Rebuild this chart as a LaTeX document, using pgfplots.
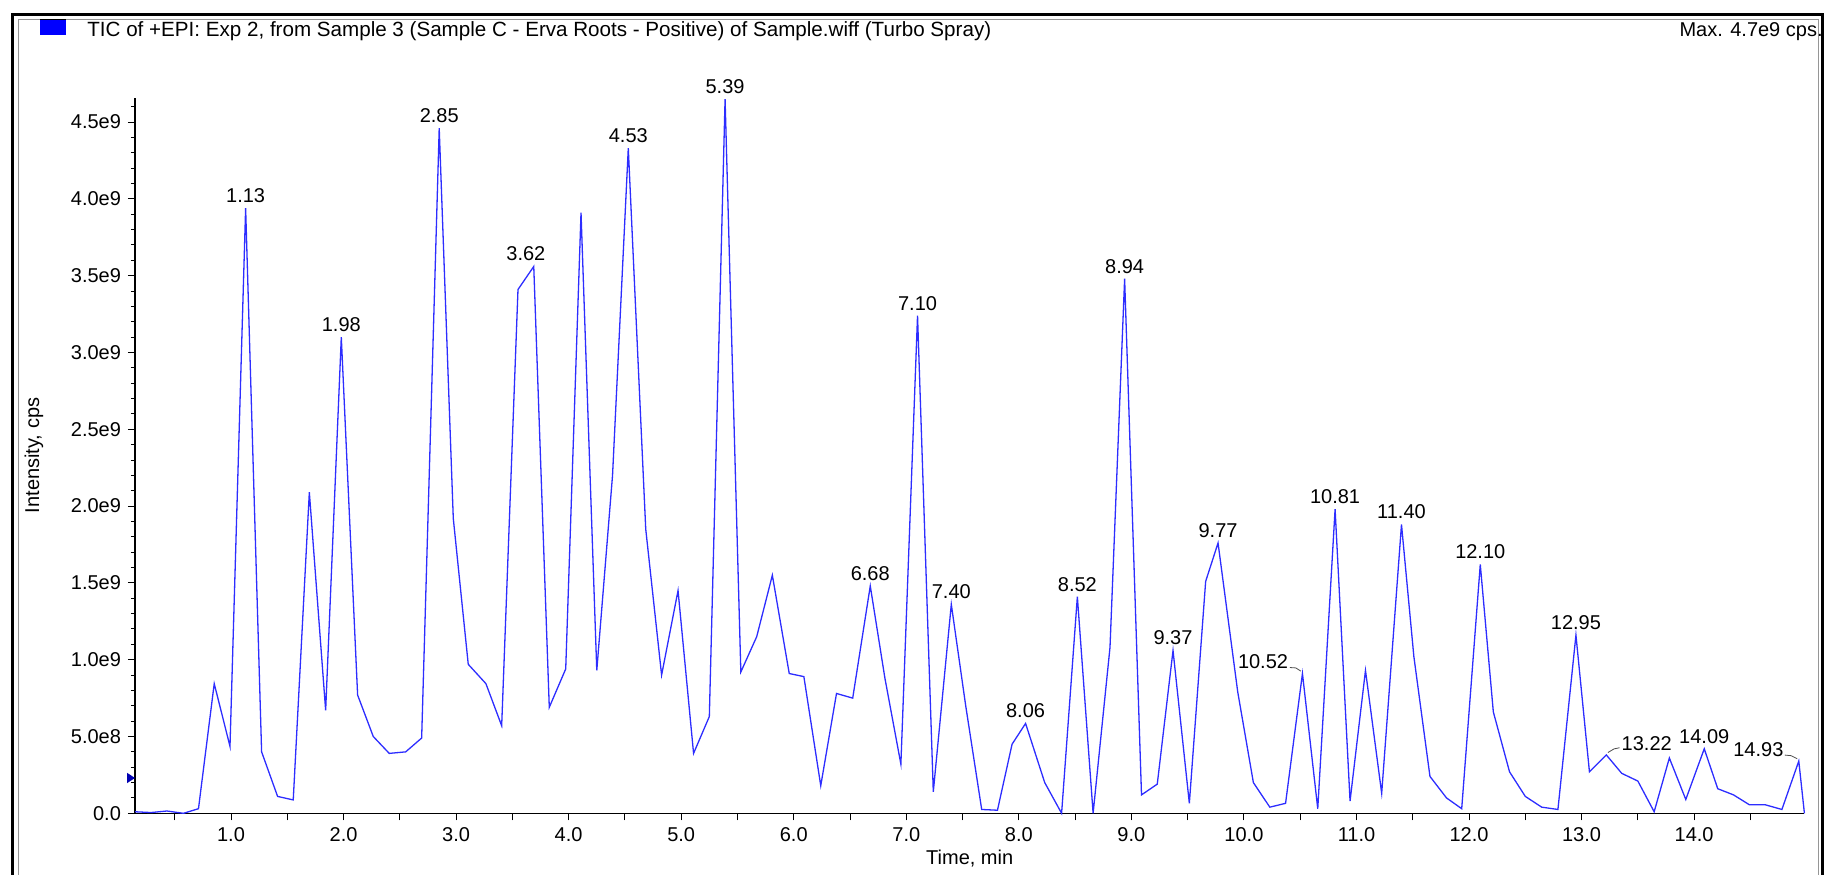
\documentclass[border=0pt]{standalone}
\usepackage{pgfplots}
\usepackage{pgfplotstable}
\pgfplotsset{compat=1.18}
\usepackage{fontspec}
\setmainfont{Liberation Sans}

\definecolor{ticblue}{RGB}{45,45,255}
\definecolor{legblue}{RGB}{0,0,255}
\definecolor{framegray}{RGB}{150,150,150}

% Total ion chromatogram: retention time (min), intensity (cps)
\pgfplotstableread{
t       I
0.147   0.010e9
0.29    0.005e9
0.43    0.015e9
0.578   0.0
0.711   0.030e9
0.851   0.844e9
0.991   0.436e9
1.13    3.94e9
1.272   0.40e9
1.414   0.11e9
1.553   0.087e9
1.696   2.09e9
1.841   0.67e9
1.98    3.10e9
2.125   0.77e9
2.264   0.50e9
2.406   0.39e9
2.552   0.40e9
2.694   0.49e9
2.85    4.46e9
2.975   1.92e9
3.108   0.97e9
3.265   0.844e9
3.405   0.57e9
3.55    3.41e9
3.69    3.56e9
3.828   0.69e9
3.974   0.94e9
4.11    3.91e9
4.25    0.93e9
4.39    2.20e9
4.53    4.33e9
4.685   1.85e9
4.826   0.90e9
4.972   1.45e9
5.11    0.39e9
5.25    0.63e9
5.39    4.65e9
5.53    0.92e9
5.671   1.15e9
5.81    1.55e9
5.96    0.91e9
6.09    0.89e9
6.24    0.18e9
6.38    0.78e9
6.524   0.75e9
6.68    1.48e9
6.81    0.88e9
6.952   0.32e9
7.10    3.24e9
7.24    0.14e9
7.40    1.36e9
7.528   0.70e9
7.67    0.025e9
7.81    0.02e9
7.94    0.45e9
8.06    0.585e9
8.23    0.20e9
8.38    0.0
8.52    1.41e9
8.66    0.0
8.81    1.08e9
8.94    3.48e9
9.09    0.12e9
9.23    0.19e9
9.37    1.06e9
9.515   0.065e9
9.66    1.51e9
9.77    1.76e9
9.945   0.79e9
10.084  0.20e9
10.23   0.04e9
10.37   0.065e9
10.52   0.91e9
10.656  0.03e9
10.81   1.98e9
10.943  0.08e9
11.08   0.93e9
11.224  0.13e9
11.40   1.88e9
11.51   1.02e9
11.653  0.24e9
11.80   0.10e9
11.935  0.03e9
12.10   1.62e9
12.216  0.66e9
12.36   0.27e9
12.50   0.11e9
12.646  0.04e9
12.79   0.025e9
12.95   1.16e9
13.07   0.27e9
13.22   0.38e9
13.357  0.26e9
13.50   0.21e9
13.645  0.01e9
13.78   0.36e9
13.926  0.09e9
14.09   0.42e9
14.21   0.16e9
14.35   0.12e9
14.49   0.056e9
14.63   0.056e9
14.78   0.025e9
14.93   0.34e9
14.98   0.0
}\ticdata

\tikzset{
  peak/.style={anchor=south, inner sep=0pt, yshift=2.5pt, font=\fontsize{10}{12}\selectfont},
  leader/.style={black!70, line width=0.4pt},
}

\begin{document}
\begin{tikzpicture}
\useasboundingbox (0pt,0pt) rectangle (912.5pt,437pt);

% window frame
\draw[line width=1.3pt] (6.25pt,-5pt) -- (6.25pt,429.6pt) -- (911.3pt,429.6pt) -- (911.3pt,-5pt);
\draw[framegray, line width=0.5pt] (9pt,-5pt) -- (9pt,427.3pt) -- (909.3pt,427.3pt) -- (909.3pt,-5pt);

% trace colour key and header
\fill[legblue] (20pt,419.5pt) rectangle (33pt,427.3pt);
\draw[black, line width=0.5pt] (20pt,427.3pt) -- (33pt,427.3pt);
\node[anchor=base west, inner sep=0pt, font=\fontsize{10.3}{12}\selectfont] at (43.5pt,418.5pt)
  {TIC of +EPI: Exp 2, from Sample 3 (Sample C - Erva Roots - Positive) of Sample.wiff (Turbo Spray)};
\node[anchor=base east, inner sep=0pt, font=\fontsize{10}{12}\selectfont] at (911.5pt,418.5pt)
  {Max. 4.7e9 cps.};

\begin{axis}[
  at={(67.5pt,30.35pt)}, anchor=south west,
  scale only axis,
  width=834.7pt, height=357.9pt,
  xmin=0.147, xmax=14.98,
  ymin=0, ymax=4.66e9,
  clip=false,
  axis lines=left,
  axis line style={-, line width=0.75pt, black},
  tick align=outside,
  major tick length=3.5pt,
  minor tick length=2pt,
  every tick/.style={black, line width=0.5pt},
  tick label style={font=\fontsize{10}{12}\selectfont},
  xtick={1,2,3,4,5,6,7,8,9,10,11,12,13,14},
  xticklabels={1.0,2.0,3.0,4.0,5.0,6.0,7.0,8.0,9.0,10.0,11.0,12.0,13.0,14.0},
  extra x ticks={0.5,1.5,2.5,3.5,4.5,5.5,6.5,7.5,8.5,9.5,10.5,11.5,12.5,13.5,14.5},
  extra x tick labels={},
  ytick={0,5e8,1e9,1.5e9,2e9,2.5e9,3e9,3.5e9,4e9,4.5e9},
  yticklabels={0.0,5.0e8,1.0e9,1.5e9,2.0e9,2.5e9,3.0e9,3.5e9,4.0e9,4.5e9},
  scaled y ticks=false,
  minor ytick={1e8,2e8,3e8,4e8,6e8,7e8,8e8,9e8,
    1.1e9,1.2e9,1.3e9,1.4e9,1.6e9,1.7e9,1.8e9,1.9e9,
    2.1e9,2.2e9,2.3e9,2.4e9,2.6e9,2.7e9,2.8e9,2.9e9,
    3.1e9,3.2e9,3.3e9,3.4e9,3.6e9,3.7e9,3.8e9,3.9e9,
    4.1e9,4.2e9,4.3e9,4.4e9,4.6e9},
  xlabel={Time, min},
  ylabel={Intensity, cps},
  label style={font=\fontsize{10}{12}\selectfont},
  xlabel style={at={(axis description cs:0.5,-0.0635)}, anchor=center},
  ylabel style={at={(axis description cs:-0.0605,0.5)}, anchor=center},
]
\addplot[ticblue, line width=0.65pt, mark=none] table[x=t, y=I] {\ticdata};

% threshold marker on the intensity axis
\fill[blue!70!black] (axis cs:0.147,0.23e9) -- ++(-4pt,2.6pt) -- ++(0pt,-5.2pt) -- cycle;

% apex retention-time labels
\node[peak] at (axis cs:1.13,3.94e9) {1.13};
\node[peak] at (axis cs:1.98,3.10e9) {1.98};
\node[peak] at (axis cs:2.85,4.46e9) {2.85};
\node[peak] at (axis cs:3.62,3.56e9) {3.62};
\node[peak] at (axis cs:4.53,4.33e9) {4.53};
\node[peak] at (axis cs:5.39,4.65e9) {5.39};
\node[peak] at (axis cs:6.68,1.48e9) {6.68};
\node[peak] at (axis cs:7.10,3.24e9) {7.10};
\node[peak] at (axis cs:7.40,1.36e9) {7.40};
\node[peak] at (axis cs:8.06,0.585e9) {8.06};
\node[peak] at (axis cs:8.52,1.41e9) {8.52};
\node[peak] at (axis cs:8.94,3.48e9) {8.94};
\node[peak] at (axis cs:9.37,1.06e9) {9.37};
\node[peak] at (axis cs:9.77,1.76e9) {9.77};
\node[peak] at (axis cs:10.81,1.98e9) {10.81};
\node[peak] at (axis cs:11.40,1.88e9) {11.40};
\node[peak] at (axis cs:12.10,1.62e9) {12.10};
\node[peak] at (axis cs:12.95,1.16e9) {12.95};
\node[peak] at (axis cs:14.09,0.42e9) {14.09};
% labels moved aside, with leaders to their apex
\draw[leader] (axis cs:10.52,0.91e9) ++(-0.8pt,1.2pt) -- ++(-2.5pt,1.6pt) -- ++(-3pt,0.2pt);
\node[anchor=east, inner sep=0pt, font=\fontsize{10}{12}\selectfont] at ([shift={(-7pt,6pt)}]axis cs:10.52,0.91e9) {10.52};
\draw[leader] (axis cs:13.22,0.38e9) ++(0.8pt,1.2pt) -- ++(3pt,1.8pt) -- ++(2.8pt,0.6pt);
\node[anchor=west, inner sep=0pt, font=\fontsize{10}{12}\selectfont] at ([shift={(7.5pt,5.5pt)}]axis cs:13.22,0.38e9) {13.22};
\draw[leader] (axis cs:14.93,0.34e9) ++(-0.8pt,1.2pt) -- ++(-3pt,1.5pt) -- ++(-3.2pt,0.3pt);
\node[anchor=east, inner sep=0pt, font=\fontsize{10}{12}\selectfont] at ([shift={(-7.5pt,5.8pt)}]axis cs:14.93,0.34e9) {14.93};
\end{axis}
\end{tikzpicture}
\end{document}
